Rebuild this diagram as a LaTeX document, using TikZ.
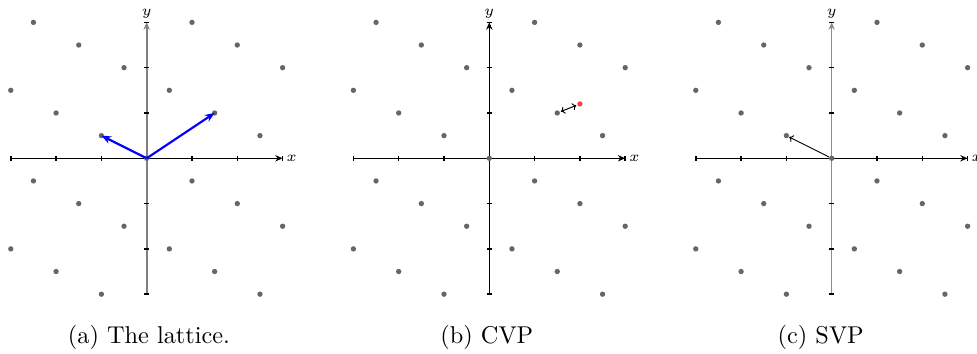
\documentclass[tikz,border=0pt]{standalone}
\usetikzlibrary{arrows.meta}
\tikzset{
  dot/.style={circle,fill=black!60,inner sep=0pt,minimum size=2.2pt},
  axisline/.style={line width=0.45pt,-{Stealth[length=3pt,width=2.6pt]}},
  tickmark/.style={line width=0.6pt},
  axlabel/.style={font=\fontsize{6.5}{7}\selectfont,inner sep=1.5pt},
  captext/.style={font=\fontsize{10}{12}\selectfont,anchor=base},
  basis/.style={blue,line width=0.9pt,-{Stealth[length=4pt,width=3.2pt]}},
  thinarrow/.style={line width=0.4pt,-{To[length=1.6pt,width=3pt]}},
  cvparrow/.style={line width=0.4pt,{To[length=1.6pt,width=3pt]}-{To[length=1.6pt,width=3pt]},shorten <=0.3pt,shorten >=0.3pt},
}
\newcommand\latpanel[4]{%
  \begin{scope}[shift={(#2,0)}]
    \coordinate (#1-xl) at (-3,0);
    \coordinate (#1-xr) at (3,0);
    \coordinate (#1-yb) at (0,-3);
    \coordinate (#1-yt) at (0,3);
    \draw[axisline] (#1-xl) -- (#1-xr);
    \draw[axisline,draw=#3,line width=#4] (#1-yb) -- (#1-yt);
    \foreach \t in {-3,...,3} {
      \draw[tickmark] (\t,-0.06) -- (\t,0.06);
      \draw[tickmark] (-0.06,\t) -- (0.06,\t);
    }
    \node[axlabel,anchor=west] (#1-x) at (#1-xr) {$x$};
    \node[axlabel,anchor=south] (#1-y) at (#1-yt) {$y$};
    \foreach \p [count=\i] in {(-2.5,3),(1,3),(-1.5,2.5),(2,2.5),(-0.5,2),(3,2),
      (-3,1.5),(0.5,1.5),(-2,1),(2.5,0.5),(-2.5,-0.5),(1,-0.5),(-1.5,-1),(2,-1),
      (-0.5,-1.5),(3,-1.5),(-3,-2),(0.5,-2),(-2,-2.5),(1.5,-2.5),(-1,-3),(2.5,-3)}
      \node[dot] (#1-\i) at \p {};
    \node[dot] (#1-o) at (0,0) {};
    \node[dot] (#1-b1) at (1.5,1) {};
    \node[dot] (#1-b2) at (-1,0.5) {};
  \end{scope}}
\begin{document}
\begin{tikzpicture}[x=0.655cm,y=0.655cm]
  \useasboundingbox (-3.238,-4.320) rectangle (18.329,3.494);
  \latpanel{a}{0}{black!50}{0.75pt}
  \latpanel{b}{7.563}{black}{0.5pt}
  \latpanel{c}{15.121}{black!45}{0.6pt}
  % (a) basis vectors
  \draw[basis] (a-o.center) -- (a-b1.center);
  \draw[basis] (a-o.center) -- (a-b2.center);
  % (b) CVP
  \node[dot,fill=red!75] (b-t) at (9.563,1.2) {};
  \draw[cvparrow] (b-b1) -- (b-t);
  % (c) SVP
  \draw[thinarrow] (c-o) -- (c-b2);
  % captions
  \node[captext] (capa) at (0.05,-4.08) {(a) The lattice.};
  \node[captext] (capb) at (7.51,-4.08) {(b) CVP};
  \node[captext] (capc) at (14.88,-4.08) {(c) SVP};
\end{tikzpicture}
\end{document}
